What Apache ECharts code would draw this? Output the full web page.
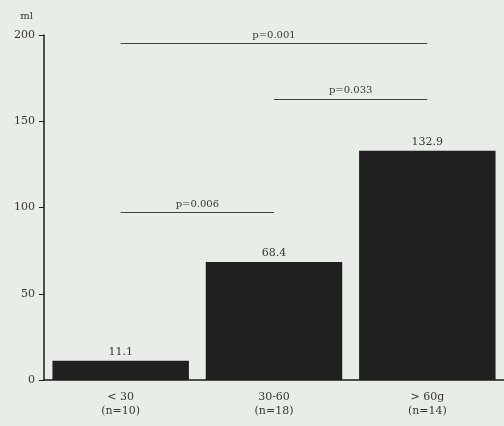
<!DOCTYPE html>
<html>
<head>
<meta charset="utf-8">
<script src="https://cdn.jsdelivr.net/npm/echarts@6/dist/echarts.min.js"></script>
<style>
  html, body { margin: 0; padding: 0; background: #e9ede7; }
  #chart { width: 504px; height: 426px; }
</style>
</head>
<body>
<div id="chart"></div>
<script>
// groups and measured volume (ml)
var categories = ['< 30\n(n=10)', '30-60\n(n=18)', '> 60g\n(n=14)'];
var volumes = [11.1, 68.4, 132.9];

// significance brackets: label, from group, to group, height
var pLabels = ['p=0.006', 'p=0.033', 'p=0.001'];
var pFrom = [0, 1, 0];
var pTo = [1, 2, 2];
var pLevel = [97, 163, 195];

var yTicks = [0, 50, 100, 150, 200];

var serif = '"DejaVu Serif", "Liberation Serif", serif';

var markData = [];
for (var i = 0; i < pLabels.length; i++) {
    markData.push([
        { name: pLabels[i], coord: [categories[pFrom[i]], pLevel[i]] },
        { coord: [categories[pTo[i]], pLevel[i]] }
    ]);
}

var dom = document.getElementById('chart');
var myChart = echarts.init(dom);
var option = {
    backgroundColor: '#e9ede7',
    animation: false,
    grid: {
        left: 44,
        right: -2,
        top: 35,
        bottom: 46
    },
    xAxis: {
        type: 'category',
        data: categories,
        axisLine: { lineStyle: { color: '#1a1a1a', width: 1.5 } },
        axisTick: { alignWithLabel: true, length: 4, lineStyle: { color: '#1a1a1a' } },
        axisLabel: {
            fontFamily: serif,
            fontSize: 11,
            color: '#383838',
            lineHeight: 14,
            margin: 10
        }
    },
    yAxis: {
        type: 'value',
        min: yTicks[0],
        max: yTicks[yTicks.length - 1],
        interval: 50,
        name: 'ml',
        nameGap: 14,
        nameTextStyle: {
            fontFamily: serif,
            fontSize: 10,
            color: '#383838',
            align: 'right',
            padding: [0, 11, 0, 0]
        },
        axisLine: { show: true, lineStyle: { color: '#1a1a1a', width: 1.5 } },
        axisTick: { show: true, length: 5, lineStyle: { color: '#1a1a1a' } },
        splitLine: { show: false },
        axisLabel: {
            fontFamily: serif,
            fontSize: 11,
            color: '#383838',
            margin: 9
        }
    },
    series: [{
        type: 'bar',
        data: volumes,
        barCategoryGap: '11%',
        itemStyle: { color: '#1f201f' },
        label: {
            show: true,
            position: 'top',
            distance: 3,
            fontFamily: serif,
            fontSize: 11,
            color: '#383838'
        },
        markLine: {
            silent: true,
            symbol: 'none',
            lineStyle: { color: '#444', width: 1, type: 'solid' },
            label: {
                show: true,
                position: 'middle',
                formatter: '{b}',
                distance: 3,
                fontFamily: serif,
                fontSize: 10,
                color: '#383838'
            },
            data: markData
        }
    }]
};

if (option && typeof option === "object") {
    myChart.setOption(option, true);
}
</script>
</body>
</html>
